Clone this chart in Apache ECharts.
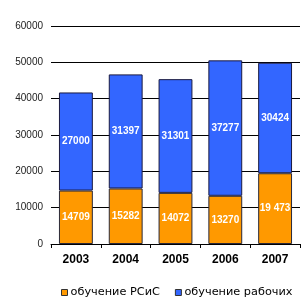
<!DOCTYPE html>
<html><head><meta charset="utf-8">
<script src="https://cdn.jsdelivr.net/npm/echarts@6/dist/echarts.min.js"></script>
<style>html,body{margin:0;padding:0;background:#fff}#c{width:308px;height:306px}</style>
</head><body><div id="c"></div>
<script>
const categories = ['2003','2004','2005','2006','2007'];
const seriesRSiS = [14709, 15282, 14072, 13270, 19473];
const seriesWorkers = [27000, 31397, 31301, 37277, 30424];
const labelsRSiS = ['14709','15282','14072','13270','19 473'];
const labelsWorkers = ['27000','31397','31301','37277','30424'];
const yTicks = [0, 10000, 20000, 30000, 40000, 50000, 60000];

const chart = echarts.init(document.getElementById('c'), null, {renderer:'canvas'});
const labelStyle = (arr) => ({
  show: true, position: 'inside', color: '#fff', fontWeight: 'bold',
  fontFamily: 'Liberation Sans, Arial, sans-serif', fontSize: 10,
  formatter: p => arr[p.dataIndex]
});
chart.setOption({
  animation: false,
  grid: {left: 51, right: 8, top: 26, bottom: 62},
  legend: {
    bottom: 3, left: 56, itemWidth: 6, itemHeight: 6, itemGap: 15,
    textStyle: {fontSize: 11.3, color: '#000', fontFamily: 'DejaVu Sans, sans-serif', padding: [0,0,0,-2]},
    data: [
      {name: 'обучение РСиС', icon: 'rect', itemStyle: {borderColor: '#333', borderWidth: 1}},
      {name: 'обучение рабочих', icon: 'rect', itemStyle: {borderColor: '#333', borderWidth: 1}}
    ]
  },
  xAxis: {
    type: 'category', data: categories,
    axisLine: {show: true, lineStyle: {color: '#000', width: 1}},
    axisTick: {show: true, length: 4, lineStyle: {color: '#000'}},
    axisLabel: {fontSize: 12, fontWeight: 'bold', color: '#000', margin: 10, fontFamily: 'Liberation Sans, Arial, sans-serif'}
  },
  yAxis: {
    type: 'value', min: yTicks[0], max: yTicks[yTicks.length-1], interval: 10000,
    axisLine: {show: false}, axisTick: {show: false},
    splitLine: {show: true, lineStyle: {color: '#000', width: 1}},
    axisLabel: {fontSize: 10, color: '#222', margin: 8, fontFamily: 'Liberation Sans, Arial, sans-serif',
      formatter: v => String(v)}
  },
  series: [
    {name: 'обучение РСиС', type: 'bar', stack: 's', data: seriesRSiS, barWidth: '68%',
     itemStyle: {color: '#FF9900', borderColor: '#2a2a3a', borderWidth: 1},
     label: labelStyle(labelsRSiS)},
    {name: 'обучение рабочих', type: 'bar', stack: 's', data: seriesWorkers, barWidth: '68%',
     itemStyle: {color: '#3366FF', borderColor: '#1a1a40', borderWidth: 1},
     label: labelStyle(labelsWorkers)}
  ]
});
</script></body></html>
